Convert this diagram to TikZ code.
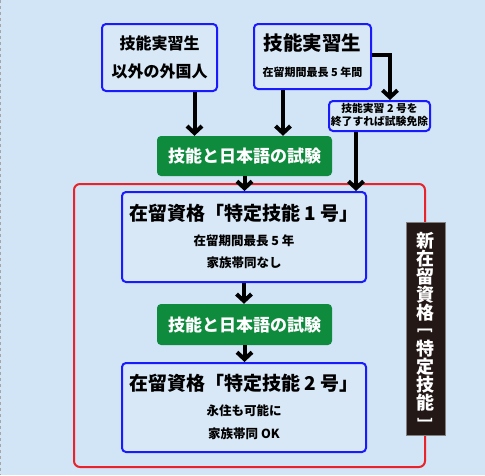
\documentclass[tikz,border=0pt]{standalone}
\usepackage{fontspec}
\setmainfont{Noto Sans CJK JP}
\usetikzlibrary{arrows.meta}
\definecolor{bgc}{HTML}{D2E5F6}
\definecolor{boxfill}{HTML}{D8E8F7}
\definecolor{boxblue}{HTML}{1A1AFF}
\definecolor{tgreen}{HTML}{0F8B3E}
\definecolor{fred}{HTML}{E8232A}
\definecolor{kbox}{HTML}{231815}
\newcommand{\fsz}[1]{\fontsize{#1}{#1}\selectfont}
\newcommand{\vbrk}[1]{\raisebox{2pt}{\rotatebox[origin=c]{-90}{\fsz{15}#1}}}
\begin{document}
\begin{tikzpicture}[x=1pt,y=-1pt,
  bluebox/.style={draw=boxblue, line width=2pt, fill=boxfill, rounded corners=4pt, inner sep=0pt},
  greenbox/.style={fill=tgreen, rounded corners=4pt, inner sep=0pt, text=white, font=\fsz{17}\bfseries},
  txt/.style={inner sep=0pt, font=\bfseries},
  conn/.style={line width=4pt, -{Straight Barb[length=7pt,width=15pt]}},
]
\fill[bgc] (0,0) rectangle (485,475);
\useasboundingbox (0,0) rectangle (485,475);
\draw[gray!70, dashed, line width=1pt] (0.5,0) -- (0.5,475);

% red frame
\draw[fred, line width=2pt, rounded corners=6pt] (74,184) rectangle (425,467);

% boxes
\node[bluebox, minimum width=115pt, minimum height=67pt] (A) at (159.5,57.5) {};
\node[bluebox, minimum width=117pt, minimum height=65pt] (B) at (312.5,56.5) {};
\node[bluebox, minimum width=101pt, minimum height=30pt] (C) at (379.5,116) {};
\node[greenbox, minimum width=175pt, minimum height=40pt] (G1) at (244.5,156) {技能と日本語の試験};
\node[bluebox, minimum width=244pt, minimum height=90pt] (D) at (244,237) {};
\node[greenbox, minimum width=175pt, minimum height=41pt] (G2) at (244.5,324.5) {技能と日本語の試験};
\node[bluebox, minimum width=244pt, minimum height=89pt] (E) at (244,407.5) {};
\node[draw=gray, line width=1pt, fill=kbox, minimum width=39pt, minimum height=213pt, inner sep=0pt] (K) at (425.5,328.5) {};
\node[txt, text=white, align=center, font=\fsz{18}\bfseries] (Kt) at (425.5,330) {新\\在\\留\\資\\格\\\vbrk{[}\\特\\定\\技\\能\\\vbrk{]}};

% texts
\node[txt, font=\fsz{16}\bfseries] (At1) at (159.5,43) {技能実習生};
\node[txt, font=\fsz{16}\bfseries] (At2) at (159.5,71) {以外の外国人};
\node[txt, font=\fsz{19.5}\bfseries] (Bt) at (312.5,43) {技能実習生};
\node[txt, font=\fsz{11}\bfseries] (Bs) at (312.5,72) {在留期間最長 5 年間};
\node[txt, font=\fsz{10.8}\bfseries] (Ct1) at (379.5,108) {技能実習 2 号を};
\node[txt, font=\fsz{10.8}\bfseries] (Ct2) at (379.5,121) {終了すれば試験免除};
\node[txt, font=\fsz{19}\bfseries] (Dt) at (244,213) {在留資格「特定技能 1 号」};
\node[txt, font=\fsz{12.5}\bfseries] (Ds1) at (244,241) {在留期間最長 5 年};
\node[txt, font=\fsz{12.5}\bfseries] (Ds2) at (244,263) {家族帯同なし};
\node[txt, font=\fsz{19}\bfseries] (Et) at (244,383) {在留資格「特定技能 2 号」};
\node[txt, font=\fsz{12.5}\bfseries] (Es1) at (244,411) {永住も可能に};
\node[txt, font=\fsz{12.5}\bfseries] (Es2) at (244,434) {家族帯同 OK};

% connectors
\draw[conn] ([xshift=35pt]A.south) -- ([xshift=35pt]A.south |- G1.north);
\draw[conn] ([xshift=-29.5pt]B.south) -- ([xshift=-29.5pt]B.south |- G1.north);
\draw[conn] ([yshift=1.5pt]B.east) -| ([xshift=10.5pt]C.north);
\draw[conn] ([xshift=-23.5pt]C.south) -- ([xshift=-23.5pt]C.south |- D.north);
\draw[conn] (G1.south) -- (G1.south |- D.north);
\draw[conn] (D.south) -- (D.south |- G2.north);
\draw[conn] (G2.south) -- (G2.south |- E.north);
\end{tikzpicture}
\end{document}
